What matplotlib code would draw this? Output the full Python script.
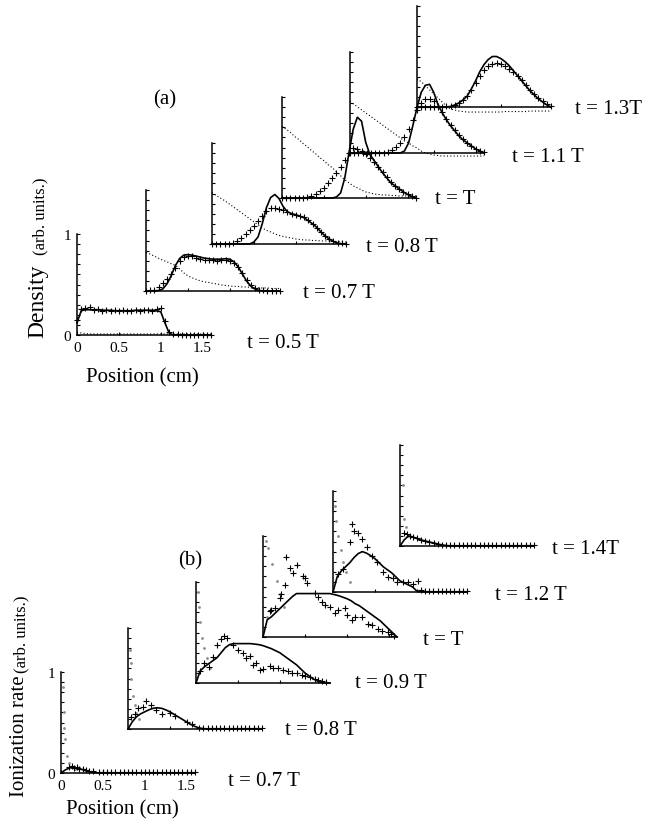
import numpy as np
import matplotlib
matplotlib.use('Agg')
import matplotlib.pyplot as plt

plt.rcParams['font.family'] = ['Liberation Serif', 'DejaVu Serif']

W, H = 646, 828          # figure size in pixels
AX_W, AX_H = 134, 101    # size of one small plot in pixels

# common position grid (cm), 33 points 0 .. 1.6
x_grid = np.round(np.arange(0, 1.601, 0.05), 2)

# ---------------- (a) density ----------------
a_times = ['t = 0.5 T', 't = 0.7 T', 't = 0.8 T', 't = T', 't = 1.1 T', 't = 1.3T']

a_solid_05 = [0.12, 0.24, 0.25, 0.25, 0.25, 0.25, 0.245, 0.245, 0.245, 0.24, 0.24,
              0.24, 0.24, 0.24, 0.245, 0.245, 0.245, 0.245, 0.245, 0.24, 0.23, 0.12,
              0.02, 0, 0, 0, 0, 0, 0, 0, 0, 0, 0]
a_cross_05 = [0.15, 0.26, 0.27, 0.28, 0.25, 0.26, 0.24, 0.25, 0.24, 0.25, 0.24,
              0.25, 0.24, 0.24, 0.25, 0.24, 0.25, 0.25, 0.24, 0.26, 0.27, 0.14,
              0.03, 0.01, 0.01, 0, 0, 0, 0, 0, 0, 0, 0]
a_dot_05 = [0.03, 0.02, 0.015, 0.01, 0.01, 0.01, 0.01, 0.01, 0.01, 0.01, 0.01,
            0.01, 0.01, 0.01, 0.01, 0.01, 0.01, 0.01, 0.01, 0.01, 0.01, 0.01,
            0.01, 0.01, 0.01, 0.01, 0.01, 0.01, 0.01, 0.01, 0.01, 0.01, 0.01]

a_solid_07 = [0, 0, 0, 0.005, 0.02, 0.07, 0.15, 0.25, 0.32, 0.355, 0.36,
              0.355, 0.345, 0.335, 0.325, 0.32, 0.315, 0.315, 0.315, 0.32, 0.315, 0.29,
              0.24, 0.17, 0.1, 0.05, 0.02, 0.005, 0, 0, 0, 0, 0]
a_cross_07 = [0, 0.005, 0.01, 0.04, 0.08, 0.12, 0.17, 0.23, 0.3, 0.34, 0.35,
              0.345, 0.33, 0.32, 0.31, 0.31, 0.305, 0.3, 0.305, 0.31, 0.3, 0.28,
              0.24, 0.18, 0.11, 0.06, 0.03, 0.01, 0.005, 0, 0, 0, 0]
a_dot_07 = [0.38, 0.365, 0.345, 0.325, 0.305, 0.29, 0.27, 0.255, 0.22, 0.18, 0.15,
            0.13, 0.115, 0.1, 0.09, 0.085, 0.075, 0.07, 0.06, 0.055, 0.05, 0.045,
            0.045, 0.04, 0.04, 0.035, 0.035, 0.03, 0.03, 0.03, 0.025, 0.025, 0.025]

a_solid_08 = [0, 0, 0, 0, 0, 0, 0, 0, 0, 0, 0.02,
              0.07, 0.2, 0.36, 0.46, 0.49, 0.45, 0.37, 0.32, 0.3, 0.29, 0.275,
              0.26, 0.23, 0.2, 0.165, 0.12, 0.08, 0.05, 0.025, 0.01, 0, 0]
a_cross_08 = [0, 0, 0, 0, 0, 0.01, 0.03, 0.06, 0.1, 0.14, 0.18,
              0.23, 0.28, 0.33, 0.36, 0.355, 0.35, 0.335, 0.32, 0.3, 0.29, 0.28,
              0.265, 0.235, 0.2, 0.16, 0.12, 0.08, 0.05, 0.025, 0.01, 0.005, 0]
a_dot_08 = [0.51, 0.48, 0.455, 0.43, 0.4, 0.37, 0.34, 0.31, 0.28, 0.25, 0.22,
            0.19, 0.16, 0.135, 0.12, 0.1, 0.085, 0.075, 0.065, 0.06, 0.05, 0.045,
            0.04, 0.04, 0.035, 0.035, 0.03, 0.03, 0.03, 0.025, 0.025, 0.025, 0.02]

a_solid_10 = [0, 0, 0, 0, 0, 0, 0, 0, 0, 0, 0,
              0, 0, 0.01, 0.05, 0.2, 0.45, 0.68, 0.8, 0.76, 0.55, 0.43,
              0.37, 0.31, 0.25, 0.2, 0.15, 0.12, 0.09, 0.06, 0.035, 0.015, 0]
a_cross_10 = [0, 0, 0, 0, 0, 0, 0.01, 0.02, 0.04, 0.07, 0.1,
              0.15, 0.2, 0.25, 0.31, 0.38, 0.45, 0.5, 0.49, 0.47, 0.44, 0.4,
              0.36, 0.31, 0.26, 0.21, 0.16, 0.12, 0.09, 0.06, 0.035, 0.015, 0]
a_dot_10 = [0.71, 0.68, 0.65, 0.61, 0.58, 0.54, 0.51, 0.47, 0.44, 0.4, 0.37,
            0.33, 0.3, 0.26, 0.22, 0.18, 0.15, 0.12, 0.1, 0.08, 0.06, 0.05,
            0.04, 0.035, 0.03, 0.03, 0.025, 0.025, 0.02, 0.02, 0.02, 0.02, 0.02]

a_solid_11 = [0, 0, 0, 0, 0, 0, 0, 0, 0, 0, 0,
              0, 0, 0.02, 0.1, 0.27, 0.45, 0.6, 0.67, 0.68, 0.6, 0.48,
              0.4, 0.33, 0.27, 0.22, 0.17, 0.13, 0.1, 0.07, 0.04, 0.02, 0]
a_cross_11 = [0, 0, 0, 0, 0, 0, 0, 0, 0, 0.01, 0.03,
              0.06, 0.1, 0.16, 0.24, 0.33, 0.43, 0.5, 0.53, 0.53, 0.51, 0.47,
              0.41, 0.34, 0.28, 0.23, 0.18, 0.14, 0.1, 0.07, 0.04, 0.02, 0.005]
a_dot_11 = [0.51, 0.48, 0.45, 0.42, 0.39, 0.36, 0.33, 0.3, 0.27, 0.24, 0.21,
            0.18, 0.15, 0.12, 0.1, 0.07, 0.05, 0.02, 0, -0.01, -0.02, -0.025,
            -0.03, -0.03, -0.03, -0.03, -0.03, -0.03, -0.03, -0.03, -0.03, -0.03, -0.03]

a_solid_13 = [0, 0, 0, 0, 0, 0, 0, 0, 0.005, 0.02, 0.04,
              0.07, 0.11, 0.18, 0.26, 0.35, 0.42, 0.47, 0.5, 0.5, 0.48, 0.45,
              0.41, 0.36, 0.31, 0.26, 0.21, 0.16, 0.12, 0.08, 0.05, 0.02, 0]
a_cross_13 = [0, 0, 0, 0, 0, 0, 0, 0.005, 0.01, 0.02, 0.04,
              0.07, 0.11, 0.17, 0.24, 0.31, 0.37, 0.41, 0.43, 0.44, 0.43, 0.41,
              0.38, 0.35, 0.31, 0.27, 0.22, 0.17, 0.13, 0.09, 0.06, 0.03, 0.01]
a_dot_13 = [0.28, 0.25, 0.21, 0.17, 0.13, 0.09, 0.05, 0.01, -0.02, -0.03, -0.04,
            -0.045, -0.05, -0.05, -0.05, -0.05, -0.05, -0.05, -0.05, -0.05, -0.05, -0.045,
            -0.045, -0.045, -0.045, -0.045, -0.045, -0.04, -0.04, -0.04, -0.04, -0.04, -0.04]

a_solid = [a_solid_05, a_solid_07, a_solid_08, a_solid_10, a_solid_11, a_solid_13]
a_cross = [a_cross_05, a_cross_07, a_cross_08, a_cross_10, a_cross_11, a_cross_13]
a_dot = [a_dot_05, a_dot_07, a_dot_08, a_dot_10, a_dot_11, a_dot_13]

# ---------------- (b) ionization rate ----------------
b_times = ['t = 0.7 T', 't = 0.8 T', 't = 0.9 T', 't = T', 't = 1.2 T', 't = 1.4T']

b_solid_07 = [0, 0.03, 0.05, 0.055, 0.05, 0.035, 0.02, 0.01, 0.005, 0, 0,
              0, 0, 0, 0, 0, 0, 0, 0, 0, 0, 0,
              0, 0, 0, 0, 0, 0, 0, 0, 0, 0, 0]
b_solid_08 = [0, 0.07, 0.12, 0.15, 0.17, 0.19, 0.205, 0.21, 0.205, 0.19, 0.17,
              0.145, 0.12, 0.095, 0.07, 0.045, 0.025, 0.01, 0.003, 0, 0, 0,
              0, 0, 0, 0, 0, 0, 0, 0, 0, 0, 0]
b_solid_09 = [0, 0.12, 0.16, 0.19, 0.22, 0.25, 0.3, 0.35, 0.38, 0.39, 0.39,
              0.39, 0.39, 0.39, 0.385, 0.38, 0.37, 0.355, 0.34, 0.32, 0.3, 0.27,
              0.24, 0.21, 0.18, 0.14, 0.1, 0.07, 0.04, 0.02, 0.005, 0, 0]
b_solid_10 = [0, 0.17, 0.2, 0.24, 0.28, 0.32, 0.36, 0.4, 0.43, 0.43, 0.43,
              0.43, 0.43, 0.43, 0.43, 0.43, 0.43, 0.42, 0.41, 0.395, 0.38, 0.36,
              0.33, 0.31, 0.28, 0.25, 0.22, 0.19, 0.16, 0.12, 0.08, 0.04, 0]
b_solid_12 = [0, 0.15, 0.21, 0.25, 0.29, 0.34, 0.38, 0.4, 0.385, 0.36, 0.33,
              0.29, 0.25, 0.22, 0.19, 0.15, 0.11, 0.09, 0.07, 0.05, 0.01, 0,
              0, 0, 0, 0, 0, 0, 0, 0, 0, 0, 0]
b_solid_14 = [0, 0.06, 0.1, 0.09, 0.075, 0.06, 0.05, 0.04, 0.03, 0.02, 0.01,
              0.005, 0, 0, 0, 0, 0, 0, 0, 0, 0, 0,
              0, 0, 0, 0, 0, 0, 0, 0, 0, 0, 0]

# scattered crosses (position, value)
b_cross_x_07 = [0.1, 0.13, 0.16, 0.19, 0.22, 0.26, 0.3, 0.34, 0.38]
b_cross_y_07 = [0.06, 0.07, 0.05, 0.06, 0.04, 0.04, 0.03, 0.02, 0.015]
b_cross_x_08 = [0.04, 0.08, 0.12, 0.18, 0.22, 0.28, 0.34, 0.4, 0.5, 0.56, 0.7, 0.76]
b_cross_y_08 = [0.12, 0.15, 0.21, 0.22, 0.28, 0.24, 0.19, 0.15, 0.16, 0.13, 0.07, 0.05]
b_cross_x_09 = [0.05, 0.1, 0.15, 0.2, 0.25, 0.3, 0.33, 0.37, 0.44, 0.5, 0.56, 0.6,
                0.64, 0.68, 0.72, 0.76, 0.8, 0.88, 0.92, 0.98, 1.04, 1.1, 1.15,
                1.2, 1.26, 1.3, 1.36, 1.42, 1.46, 1.5, 1.55]
b_cross_y_09 = [0.12, 0.2, 0.16, 0.26, 0.38, 0.44, 0.47, 0.45, 0.38, 0.33, 0.3, 0.25,
                0.27, 0.18, 0.2, 0.13, 0.14, 0.17, 0.15, 0.15, 0.13, 0.12, 0.1,
                0.1, 0.08, 0.07, 0.06, 0.04, 0.03, 0.015, 0.005]
b_cross_x_10 = [0.08, 0.1, 0.14, 0.2, 0.22, 0.26, 0.28, 0.32, 0.36, 0.4, 0.48, 0.5,
                0.52, 0.62, 0.66, 0.7, 0.74, 0.8, 0.86, 0.9, 0.98, 1.0, 1.06, 1.1,
                1.18, 1.25, 1.3, 1.37, 1.42, 1.49, 1.53, 1.57]
b_cross_y_10 = [0.26, 0.27, 0.29, 0.39, 0.43, 0.51, 0.79, 0.68, 0.63, 0.71, 0.6, 0.58,
                0.53, 0.44, 0.4, 0.35, 0.32, 0.3, 0.24, 0.27, 0.29, 0.22, 0.17, 0.2,
                0.2, 0.13, 0.12, 0.08, 0.06, 0.05, 0.03, 0.01]
b_cross_x_12 = [0.06, 0.12, 0.2, 0.23, 0.25, 0.3, 0.35, 0.4, 0.46, 0.52, 0.6, 0.66,
                0.72, 0.77, 0.83, 0.89, 0.95, 1.01, 1.05]
b_cross_y_12 = [0.18, 0.23, 0.5, 0.67, 0.6, 0.58, 0.52, 0.45, 0.36, 0.3, 0.2, 0.15,
                0.14, 0.1, 0.1, 0.1, 0.08, 0.11, 0.02]
b_cross_x_14 = [0.05, 0.08, 0.12, 0.16, 0.2, 0.25, 0.3, 0.35, 0.4, 0.45, 0.5]
b_cross_y_14 = [0.13, 0.12, 0.1, 0.09, 0.08, 0.06, 0.05, 0.04, 0.03, 0.02, 0.01]
# crosses continue along the axis from this position on
b_base_from = [0.45, 0.85, 1.65, 1.65, 1.1, 0.55]

# faint dots close to the axis (position, value)
b_dot_x_07 = [0.02, 0.03, 0.04, 0.05, 0.07, 0.1, 0.13, 0.17]
b_dot_y_07 = [0.85, 0.6, 0.45, 0.34, 0.17, 0.1, 0.06, 0.04]
b_dot_x_08 = [0.02, 0.03, 0.04, 0.06, 0.08, 0.1, 0.13]
b_dot_y_08 = [0.78, 0.65, 0.5, 0.33, 0.24, 0.16, 0.1]
b_dot_x_09 = [0.02, 0.03, 0.05, 0.07, 0.1, 0.13, 0.17]
b_dot_y_09 = [0.9, 0.75, 0.6, 0.45, 0.35, 0.25, 0.15]
b_dot_x_10 = [0.03, 0.06, 0.11, 0.17, 0.2, 0.25, 0.05]
b_dot_y_10 = [0.95, 0.88, 0.72, 0.55, 0.43, 0.3, 0.2]
b_dot_x_12 = [0.02, 0.04, 0.06, 0.09, 0.12, 0.15, 0.2]
b_dot_y_12 = [0.85, 0.7, 0.55, 0.42, 0.3, 0.2, 0.1]
b_dot_x_14 = [0.03, 0.05, 0.07, 0.1]
b_dot_y_14 = [0.6, 0.27, 0.19, 0.1]

b_solid = [b_solid_07, b_solid_08, b_solid_09, b_solid_10, b_solid_12, b_solid_14]
b_cross = [(b_cross_x_07, b_cross_y_07), (b_cross_x_08, b_cross_y_08),
           (b_cross_x_09, b_cross_y_09), (b_cross_x_10, b_cross_y_10),
           (b_cross_x_12, b_cross_y_12), (b_cross_x_14, b_cross_y_14)]
b_dot = [(b_dot_x_07, b_dot_y_07), (b_dot_x_08, b_dot_y_08), (b_dot_x_09, b_dot_y_09),
         (b_dot_x_10, b_dot_y_10), (b_dot_x_12, b_dot_y_12), (b_dot_x_14, b_dot_y_14)]

# axis origins (pixels from top-left) and label anchors
a_origin = [(77, 336), (146, 292), (212, 245), (282, 199), (350, 154), (417, 108)]
a_label = [(247, 344), (303, 293), (366, 248), (435, 200), (512, 158), (575, 110)]
b_origin = [(61, 774), (128, 730), (196, 684), (263, 638), (333, 593), (400, 547)]
b_label = [(228, 782), (285, 731), (355, 684), (423, 641), (495, 596), (552, 550)]


def fx(px):
    return px / W


def fy(py):
    return 1 - py / H


def small_axes(fig, ox, oy, labels=False):
    ax = fig.add_axes([fx(ox), fy(oy), AX_W / W, AX_H / H])
    ax.set_facecolor('none')
    ax.set_xlim(0, 1.6)
    ax.set_ylim(0, 1)
    for s in ['top', 'right']:
        ax.spines[s].set_visible(False)
    for s in ['left', 'bottom']:
        ax.spines[s].set_linewidth(1.1)
    ax.set_xticks([0.5, 1.0, 1.5])
    ax.set_yticks(np.round(np.arange(0, 1.01, 0.1), 1))
    ax.tick_params(direction='in', length=2.5, width=0.8, labelsize=11, pad=4)
    if labels:
        ax.set_xticks([0, 0.5, 1.0, 1.5])
        ax.set_xticklabels(['0', '0.5', '1', '1.5'])
        ax.set_yticklabels(['0'] + [''] * 9 + ['1'])
    else:
        ax.set_xticklabels([])
        ax.set_yticklabels([])
    return ax


fig = plt.figure(figsize=(W / 100, H / 100), dpi=100)

# panel (a)
for i in range(6):
    ax = small_axes(fig, *a_origin[i], labels=(i == 0))
    ax.plot(x_grid, a_dot[i], color='black', lw=0.8, ls=(0, (1, 2)), clip_on=False)
    ax.plot(x_grid, a_cross[i], ls='none', marker='+', ms=4.5, mew=0.8,
            color='black', clip_on=False)
    ax.plot(x_grid, a_solid[i], color='black', lw=1.2, clip_on=False)
    fig.text(fx(a_label[i][0]), fy(a_label[i][1]), a_times[i], fontsize=15,
             ha='left', va='center')

# panel (b)
for i in range(6):
    ax = small_axes(fig, *b_origin[i], labels=(i == 0))
    dx, dy = b_dot[i]
    ax.plot(dx, dy, ls='none', marker='.', ms=2, color='0.55', clip_on=False)
    cx, cy = b_cross[i]
    ax.plot(cx, cy, ls='none', marker='+', ms=4.5, mew=0.8, color='black', clip_on=False)
    base = x_grid[x_grid >= b_base_from[i]]
    ax.plot(base, np.full(len(base), 0.008), ls='none', marker='+', ms=4, mew=0.8,
            color='black', clip_on=False)
    ax.plot(x_grid, b_solid[i], color='black', lw=1.2, clip_on=False)
    fig.text(fx(b_label[i][0]), fy(b_label[i][1]), b_times[i], fontsize=15,
             ha='left', va='center')

# panel tags and axis titles
fig.text(fx(165), fy(100), '(a)', fontsize=15, ha='center', va='center')
fig.text(fx(190), fy(561), '(b)', fontsize=15, ha='center', va='center')

fig.text(fx(142), fy(378), 'Position (cm)', fontsize=15, ha='center', va='center')
fig.text(fx(122), fy(810), 'Position (cm)', fontsize=15, ha='center', va='center')

fig.text(fx(38), fy(338), 'Density', fontsize=17, rotation=90, ha='center', va='bottom')
fig.text(fx(40), fy(255), '(arb. units.)', fontsize=12, rotation=90, ha='center', va='bottom')
fig.text(fx(20), fy(797), 'Ionization rate', fontsize=15, rotation=90, ha='center', va='bottom')
fig.text(fx(21), fy(673), '(arb. units.)', fontsize=12, rotation=90, ha='center', va='bottom')

fig.savefig('out.png', dpi=100)
